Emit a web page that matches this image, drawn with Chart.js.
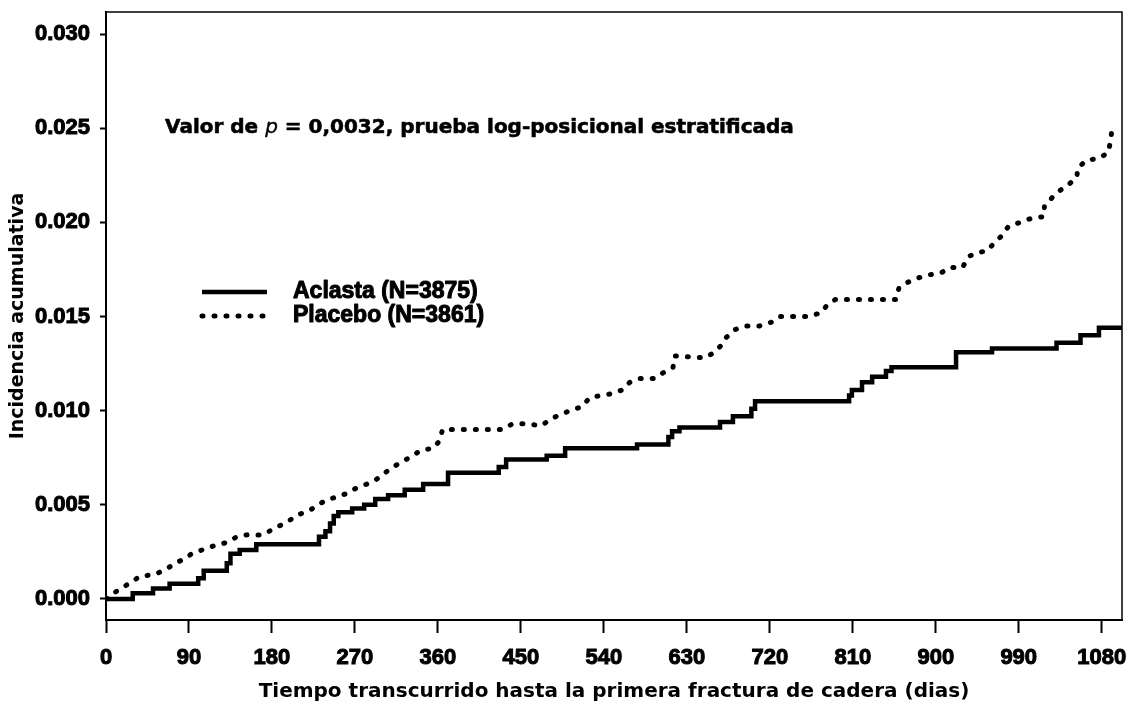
<!DOCTYPE html>
<html>
<head>
<meta charset="utf-8">
<script src="https://cdn.jsdelivr.net/npm/chart.js@4/dist/chart.umd.min.js"></script>
<style>
  html, body { margin: 0; padding: 0; background: #fff; }
  #wrap { width: 1129px; height: 709px; }
</style>
</head>
<body>
<div id="wrap"><canvas id="chart"></canvas></div>
<script>
// Aclasta (zoledronic acid) - cumulative incidence, step curve
const aclastaDays = [0, 29, 51, 69, 100, 106, 131, 135, 145, 163, 231, 238, 243, 247, 252, 267, 280, 292, 306, 324, 344, 371, 426, 434, 478, 498, 576, 610, 614, 622, 666, 680, 700, 704, 806, 809, 820, 831, 846, 852, 922, 961, 1031, 1057, 1077, 1102];
const aclastaInc = [0, 0.0003, 0.00055, 0.0008, 0.0011, 0.0015, 0.0019, 0.0024, 0.0026, 0.0029, 0.0033, 0.0036, 0.0040, 0.0044, 0.0046, 0.0048, 0.0050, 0.0053, 0.0055, 0.0058, 0.0061, 0.0067, 0.0070, 0.0074, 0.0076, 0.0080, 0.0082, 0.0086, 0.0089, 0.0091, 0.0094, 0.0097, 0.0101, 0.0105, 0.0108, 0.0111, 0.0115, 0.0118, 0.0121, 0.0123, 0.0131, 0.0133, 0.0136, 0.0140, 0.0144, 0.0144];

// Placebo - cumulative incidence, dotted
const placeboDays = [0, 8, 18, 37, 53, 66, 75, 84, 93, 104, 116, 131, 142, 153, 170, 181, 189, 200, 210, 221, 230, 241, 250, 261, 272, 283, 292, 300, 311, 322, 332, 342, 355, 362, 365, 430, 441, 456, 472, 484, 494, 503, 516, 525, 549, 560, 568, 579, 595, 604, 615, 617, 650, 660, 668, 673, 682, 695, 709, 722, 731, 762, 776, 782, 791, 857, 860, 869, 878, 891, 905, 916, 929, 936, 947, 956, 965, 972, 979, 992, 1003, 1017, 1018, 1026, 1035, 1044, 1053, 1054, 1064, 1077, 1087, 1090, 1091];
const placeboInc = [0, 0.0003, 0.0006, 0.0012, 0.0013, 0.0016, 0.0019, 0.0021, 0.0024, 0.0026, 0.0028, 0.0030, 0.0033, 0.0034, 0.0034, 0.0037, 0.0039, 0.0042, 0.0045, 0.0047, 0.0050, 0.0053, 0.0054, 0.0056, 0.0059, 0.0061, 0.0063, 0.0066, 0.0070, 0.0073, 0.0076, 0.0079, 0.0080, 0.0084, 0.0090, 0.0090, 0.0093, 0.0093, 0.0092, 0.0096, 0.0098, 0.0100, 0.0102, 0.0107, 0.0109, 0.0111, 0.0115, 0.0117, 0.0117, 0.0120, 0.0123, 0.0129, 0.0128, 0.0131, 0.0135, 0.0139, 0.0143, 0.0145, 0.0145, 0.0147, 0.0150, 0.0150, 0.0152, 0.0156, 0.0159, 0.0159, 0.0165, 0.0168, 0.0170, 0.0172, 0.0173, 0.0176, 0.0176, 0.0182, 0.0184, 0.0185, 0.0190, 0.0193, 0.0198, 0.0200, 0.0202, 0.0203, 0.0209, 0.0213, 0.0217, 0.0220, 0.0224, 0.0229, 0.0233, 0.0234, 0.0237, 0.0244, 0.0250];

const seriesLabels = ['Aclasta (N=3875)', 'Placebo (N=3861)'];
const xTicks = [0, 90, 180, 270, 360, 450, 540, 630, 720, 810, 900, 990, 1080];
const yTicks = [0.000, 0.005, 0.010, 0.015, 0.020, 0.025, 0.030];

const xTitle = 'Tiempo transcurrido hasta la primera fractura de cadera (dias)';
const yTitle = 'Incidencia acumulativa';
const pNote = ['Valor de ', 'p', ' = 0,0032, prueba log-posicional estratificada'];

const toPoints = (xs, ys) => xs.map((x, i) => ({ x: x, y: ys[i] }));

Chart.defaults.font.family = '"Liberation Sans", Arial, sans-serif';
Chart.defaults.font.weight = 'bold';
Chart.defaults.color = '#000';

// keep the plot box where it is, no extra room for edge labels
function noEdgePadding(scale) {
    scale.paddingTop = 0;
    scale.paddingBottom = 0;
    scale.paddingLeft = 0;
    scale.paddingRight = 0;
}

// frame on top and right of the plot
const framePlugin = {
    id: 'frame',
    afterDraw(chart) {
        const { ctx, chartArea: a } = chart;
        ctx.save();
        ctx.strokeStyle = '#000';
        ctx.lineWidth = 1.5;
        ctx.beginPath();
        ctx.moveTo(a.left, a.top);
        ctx.lineTo(a.right, a.top);
        ctx.lineTo(a.right, a.bottom);
        ctx.stroke();
        ctx.restore();
    }
};

// heavy text: fill plus a thin outline
function heavyText(ctx, t, x, y, w) {
    ctx.fillText(t, x, y);
    ctx.lineWidth = w;
    ctx.strokeText(t, x, y);
}

// p-value note and legend inside the plot
const notesPlugin = {
    id: 'notes',
    afterDraw(chart) {
        const { ctx, chartArea: a, scales } = chart;
        ctx.save();
        ctx.fillStyle = '#000';
        ctx.strokeStyle = '#000';
        ctx.textBaseline = 'middle';
        ctx.lineJoin = 'round';

        // p value note
        let x = a.left + 59;
        const y = scales.y.getPixelForValue(0.025);
        const fonts = ['bold 20px "DejaVu Sans"', 'italic 20px "DejaVu Sans"', 'bold 20px "DejaVu Sans"'];
        pNote.forEach((t, i) => {
            ctx.font = fonts[i];
            heavyText(ctx, t, x, y, i === 1 ? 0.4 : 0.6);
            x += ctx.measureText(t).width;
        });

        // legend
        const lx = a.left + 96, lw = 65, tx = a.left + 187;
        const rows = [a.top + 280, a.top + 304];
        chart.data.datasets.forEach((ds, i) => {
            ctx.beginPath();
            ctx.lineWidth = ds.borderWidth;
            ctx.lineCap = ds.borderCapStyle || 'butt';
            ctx.setLineDash(ds.borderDash || []);
            ctx.moveTo(lx, rows[i]);
            ctx.lineTo(lx + lw, rows[i]);
            ctx.stroke();
            ctx.setLineDash([]);
            ctx.font = 'bold 23px "Liberation Sans"';
            heavyText(ctx, ds.label, tx, rows[i], 1);
        });
        ctx.restore();
    }
};

const chart = new Chart(document.getElementById('chart'), {
    type: 'line',
    data: {
        datasets: [{
            label: seriesLabels[0],
            data: toPoints(aclastaDays, aclastaInc),
            borderColor: '#000',
            borderWidth: 4.5,
            stepped: true,
            pointRadius: 0,
            fill: false
        }, {
            label: seriesLabels[1],
            data: toPoints(placeboDays, placeboInc),
            borderColor: '#000',
            borderWidth: 5,
            borderDash: [1, 11],
            borderCapStyle: 'round',
            pointRadius: 0,
            tension: 0,
            fill: false
        }]
    },
    options: {
        responsive: true,
        maintainAspectRatio: false,
        animation: false,
        events: [],
        layout: { padding: { left: 0, right: 7, top: 12, bottom: 0 } },
        plugins: {
            legend: { display: false },
            tooltip: { enabled: false }
        },
        scales: {
            x: {
                type: 'linear',
                min: 0,
                max: 1102,
                afterFit(scale) { scale.height = 89; noEdgePadding(scale); },
                afterBuildTicks(scale) { scale.ticks = xTicks.map(v => ({ value: v })); },
                border: { display: true, color: '#000', width: 2 },
                grid: { drawOnChartArea: false, drawTicks: true, tickLength: 13, tickWidth: 2, tickColor: '#000' },
                ticks: {
                    padding: 12, maxRotation: 0,
                    font: { size: 22, weight: 'bold' },
                    textStrokeColor: '#000', textStrokeWidth: 1,
                    callback: v => String(v)
                },
                title: {
                    display: true,
                    text: xTitle,
                    font: { family: '"DejaVu Sans"', size: 20, weight: 'bold' },
                    padding: { top: 0, bottom: 5 }
                }
            },
            y: {
                min: -0.00112,
                max: 0.03117,
                afterFit(scale) { scale.width = 106; noEdgePadding(scale); },
                afterBuildTicks(scale) { scale.ticks = yTicks.map(v => ({ value: v })); },
                border: { display: true, color: '#000', width: 2 },
                grid: { drawOnChartArea: false, drawTicks: true, tickLength: 6, tickWidth: 2, tickColor: '#000' },
                ticks: {
                    padding: 10,
                    font: { size: 22, weight: 'bold' },
                    textStrokeColor: '#000', textStrokeWidth: 1,
                    callback: v => v.toFixed(3)
                },
                title: {
                    display: true,
                    text: yTitle,
                    font: { family: '"DejaVu Sans"', size: 19, weight: 'bold' },
                    padding: { top: 7, bottom: 0 }
                }
            }
        }
    },
    plugins: [framePlugin, notesPlugin]
});
</script>
</body>
</html>
